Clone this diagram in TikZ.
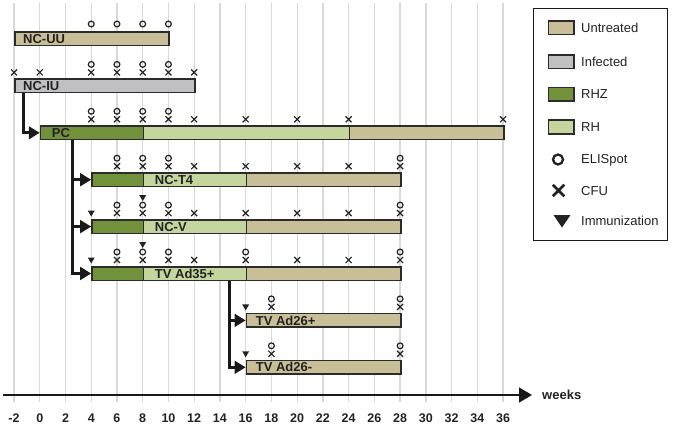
\documentclass[tikz,border=0pt]{standalone}
\usepackage{fontspec}
\setmainfont{Liberation Sans}
\usetikzlibrary{arrows.meta,shapes.misc,shapes.geometric}
\definecolor{untr}{HTML}{C8BE98}
\definecolor{infc}{HTML}{C0C0C2}
\definecolor{rhzc}{HTML}{71913A}
\definecolor{rhc}{HTML}{C4D69E}
\definecolor{bord}{HTML}{2B2B2B}
\definecolor{gridc}{HTML}{D9D9D9}
\definecolor{txt}{HTML}{222222}
\newcommand{\segbar}[5]{\node[seg, fill=#2, minimum width={12.87*(#4-#3)}, anchor=west] (#1) at ({wk(#3)},#5) {};}
\begin{document}
\begin{tikzpicture}[x=1pt,y=-1pt,
  declare function={wk(\w)=39.75+12.87*\w;},
  seg/.style={draw=bord, line width=1.5pt, minimum height=13.5pt, inner sep=0pt, rectangle},
  barlabel/.style={font=\fontsize{13}{15}\selectfont\bfseries, text=txt, anchor=west, inner sep=0pt},
  gridline/.style={draw=gridc, line width=1.3pt},
  elis/.style={circle, draw=txt, line width=1.2pt, inner sep=0pt, minimum size=5.8pt},
  cfu/.style={cross out, draw=txt, line width=1.2pt, inner sep=0pt, minimum size=4.8pt},
  immu/.style={regular polygon, regular polygon sides=3, shape border rotate=180, fill=txt, inner sep=0pt, minimum size=8pt},
  conn/.style={draw=black!90, line width=3pt, -{Triangle[length=11pt,width=12.5pt]}},
  ticklabel/.style={font=\fontsize{12.5}{14}\selectfont\bfseries, text=txt, inner sep=0pt},
  legtext/.style={font=\fontsize{13}{15}\selectfont, text=txt, anchor=west, inner sep=0pt},
  legsw/.style={draw=bord, line width=1.5pt, minimum width=25.5pt, minimum height=13.5pt, inner sep=0pt, rectangle}
]
\useasboundingbox (0,0) rectangle (674,425);

% grid lines and tick labels
\foreach \w in {-2,0,...,36} {
  \draw[gridline] ({wk(\w)},3) -- ({wk(\w)},402);
  \node[ticklabel] (tick\w) at ({wk(\w)},418) {\w};
}

% axis
\coordinate (axstart) at (3,395);
\node[font=\fontsize{13}{15}\selectfont\bfseries, text=txt, anchor=west, inner sep=0pt] (weeks) at (542,395) {weeks};
\draw[line width=1.6pt, black!90, -{Triangle[length=13pt,width=15pt]}] (axstart) -- ([xshift=-10pt]weeks.west);

% bars
\segbar{uu}{untr}{-2}{10}{39}
\segbar{iu}{infc}{-2}{12}{85.9}
\segbar{pc1}{rhzc}{0}{8}{132.8}
\segbar{pc2}{rhc}{8}{24}{132.8}
\segbar{pc3}{untr}{24}{36}{132.8}
\segbar{ta}{rhzc}{4}{8}{179.7}
\segbar{tb}{rhc}{8}{16}{179.7}
\segbar{tc}{untr}{16}{28}{179.7}
\segbar{va}{rhzc}{4}{8}{226.6}
\segbar{vb}{rhc}{8}{16}{226.6}
\segbar{vc}{untr}{16}{28}{226.6}
\segbar{aa}{rhzc}{4}{8}{273.5}
\segbar{ab}{rhc}{8}{16}{273.5}
\segbar{ac}{untr}{16}{28}{273.5}
\segbar{dp}{untr}{16}{28}{320.4}
\segbar{dm}{untr}{16}{28}{367.3}

% bar labels
\node[barlabel] (luu) at ([xshift=9pt]uu.west) {NC-UU};
\node[barlabel] (liu) at ([xshift=9pt]iu.west) {NC-IU};
\node[barlabel] (lpc) at ([xshift=12pt]pc1.west) {PC};
\node[barlabel] (lt) at ([xshift=12pt]tb.west) {NC-T4};
\node[barlabel] (lv) at ([xshift=12pt]vb.west) {NC-V};
\node[barlabel] (la) at ([xshift=12pt]ab.west) {TV Ad35+};
\node[barlabel] (ldp) at ([xshift=10pt]dp.west) {TV Ad26+};
\node[barlabel] (ldm) at ([xshift=10pt]dm.west) {TV Ad26-};

% markers
\foreach \w in {4,6,8,10} \node[elis] (e-uu-\w) at ({wk(\w)},24) {};
\foreach \w in {-2,0,4,6,8,10,12} \node[cfu] (c-iu-\w) at ({wk(\w)},72.4) {};
\foreach \w in {4,6,8,10} \node[elis] (e-iu-\w) at ({wk(\w)},64.4) {};
\foreach \w in {4,6,8,10,12,16,20,24,36} \node[cfu] (c-pc-\w) at ({wk(\w)},119.3) {};
\foreach \w in {4,6,8,10} \node[elis] (e-pc-\w) at ({wk(\w)},111.3) {};
\foreach \w in {6,8,10,12,16,20,24,28} \node[cfu] (c-t-\w) at ({wk(\w)},166.2) {};
\foreach \w in {6,8,10,28} \node[elis] (e-t-\w) at ({wk(\w)},158.2) {};
\foreach \w in {6,8,10,12,16,20,24,28} \node[cfu] (c-v-\w) at ({wk(\w)},213.1) {};
\foreach \w in {6,8,10,28} \node[elis] (e-v-\w) at ({wk(\w)},205.1) {};
\node[immu] (i-v-4) at ({wk(4)},212.6) {};
\node[immu] (i-v-8) at ({wk(8)},197.1) {};
\foreach \w in {6,8,10,12,16,20,24,28} \node[cfu] (c-a-\w) at ({wk(\w)},260) {};
\foreach \w in {6,8,10,16,28} \node[elis] (e-a-\w) at ({wk(\w)},252) {};
\node[immu] (i-a-4) at ({wk(4)},259.5) {};
\node[immu] (i-a-8) at ({wk(8)},244) {};
\foreach \w in {18,28} \node[cfu] (c-p-\w) at ({wk(\w)},306.9) {};
\foreach \w in {18,28} \node[elis] (e-p-\w) at ({wk(\w)},298.9) {};
\node[immu] (i-p-16) at ({wk(16)},306.4) {};
\foreach \w in {18,28} \node[cfu] (c-m-\w) at ({wk(\w)},353.8) {};
\foreach \w in {18,28} \node[elis] (e-m-\w) at ({wk(\w)},345.8) {};
\node[immu] (i-m-16) at ({wk(16)},353.3) {};

% connectors
\draw[conn] ([xshift=9pt]iu.south west) |- (pc1.west);
\draw[conn] ([xshift=33pt]pc1.south west) |- (ta.west);
\draw[conn] ([xshift=33pt]pc1.south west) |- (va.west);
\draw[conn] ([xshift=33pt]pc1.south west) |- (aa.west);
\draw[conn] ([xshift=-18pt]ab.south east) |- (dp.west);
\draw[conn] ([xshift=-18pt]ab.south east) |- (dm.west);

% legend
\node[draw=black!90, line width=1.3pt, minimum width=134pt, minimum height=232pt, inner sep=0pt, anchor=north west] (legend) at (533,8) {};
\node[legsw, fill=untr] (s1) at (561,28) {};
\node[legtext] (t1) at (581,28) {Untreated};
\node[legsw, fill=infc] (s2) at (561,62) {};
\node[legtext] (t2) at (581,62) {Infected};
\node[legsw, fill=rhzc] (s3) at (561,94.5) {};
\node[legtext] (t3) at (581,94.5) {RHZ};
\node[legsw, fill=rhc] (s4) at (561,127) {};
\node[legtext] (t4) at (581,127) {RH};
\node[circle, draw=txt, line width=2.3pt, inner sep=0pt, minimum size=10pt] (s5) at (558,159.5) {};
\node[legtext] (t5) at (581,160) {ELISpot};
\node[cross out, draw=txt, line width=2.5pt, inner sep=0pt, minimum size=9pt] (s6) at (558.5,190.5) {};
\node[legtext] (t6) at (581,191) {CFU};
\coordinate (s7) at (562,221);
\fill[txt] ([shift={(-8.5,-6)}]s7) -- ([shift={(8.5,-6)}]s7) -- ([shift={(0,6.5)}]s7) -- cycle;
\node[legtext] (t7) at (581,221) {Immunization};
\end{tikzpicture}
\end{document}
